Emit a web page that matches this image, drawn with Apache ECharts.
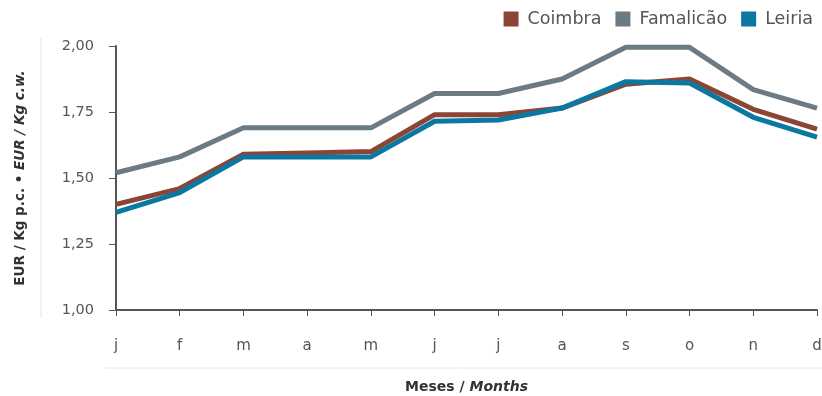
<!DOCTYPE html>
<html>
<head>
<meta charset="utf-8">
<script src="https://cdn.jsdelivr.net/npm/echarts@6/dist/echarts.min.js"></script>
<style>
  html, body { margin: 0; padding: 0; background: #fff; }
  #chart { width: 822px; height: 396px; }
</style>
</head>
<body>
<div id="chart"></div>
<script>
// meses
var months = ['j', 'f', 'm', 'a', 'm', 'j', 'j', 'a', 's', 'o', 'n', 'd'];
// preços EUR/kg
var coimbra = [1.40, 1.46, 1.59, 1.595, 1.60, 1.74, 1.74, 1.765, 1.855, 1.875, 1.76, 1.685];
var famalicao = [1.52, 1.58, 1.69, 1.69, 1.69, 1.82, 1.82, 1.875, 1.995, 1.995, 1.835, 1.765];
var leiria = [1.37, 1.445, 1.58, 1.58, 1.58, 1.715, 1.72, 1.765, 1.865, 1.86, 1.73, 1.655];

var font = 'DejaVu Sans';
var axisColor = '#555';

function line(name, data, color) {
  return {
    name: name,
    type: 'line',
    data: data,
    showSymbol: false,
    lineStyle: { width: 5, color: color },
    itemStyle: { color: color }
  };
}

var chart = echarts.init(document.getElementById('chart'));
chart.setOption({
  animation: false,
  textStyle: { fontFamily: font },
  legend: {
    right: 4,
    top: 5,
    icon: 'rect',
    itemWidth: 15,
    itemHeight: 15,
    itemGap: 14,
    textStyle: { fontSize: 17.5, color: '#555', fontFamily: font, padding: [0, 0, 0, 4] }
  },
  grid: { left: 116, right: 5, top: 46, bottom: 86, outerBoundsMode: 'none' },
  xAxis: {
    type: 'category',
    data: months,
    boundaryGap: false,
    axisLine: { lineStyle: { color: axisColor, width: 2 } },
    axisTick: { show: true, alignWithLabel: true, length: 6, lineStyle: { color: axisColor } },
    axisLabel: { color: '#555', fontSize: 15, margin: 29 },
    name: '{b|Meses / }{i|Months}',
    nameLocation: 'middle',
    nameGap: 70,
    nameTextStyle: {
      rich: {
        b: { fontWeight: 'bold', fontSize: 14, color: '#333', fontFamily: font },
        i: { fontWeight: 'bold', fontStyle: 'italic', fontSize: 14, color: '#333', fontFamily: font }
      }
    }
  },
  yAxis: {
    type: 'value',
    min: 1,
    max: 2,
    interval: 0.25,
    axisLine: { show: true, onZero: false, lineStyle: { color: axisColor, width: 2 } },
    axisTick: { show: true, length: 7, lineStyle: { color: axisColor } },
    splitLine: { show: false },
    axisLabel: {
      color: '#555',
      fontSize: 14.5,
      margin: 22,
      formatter: function (v) { return v.toFixed(2).replace('.', ','); }
    },
    name: '{b|EUR / Kg p.c. • }{i|EUR / Kg c.w.}',
    nameLocation: 'middle',
    nameGap: 89,
    nameRotate: 90,
    nameTextStyle: {
      rich: {
        b: { fontWeight: 'bold', fontSize: 13.5, color: '#333', fontFamily: font },
        i: { fontWeight: 'bold', fontStyle: 'italic', fontSize: 13.5, color: '#333', fontFamily: font }
      }
    }
  },
  graphic: [
    { type: 'line', shape: { x1: 41, y1: 38, x2: 41, y2: 318 }, style: { stroke: '#e6e6e6', lineWidth: 1 } },
    { type: 'line', shape: { x1: 105, y1: 368, x2: 822, y2: 368 }, style: { stroke: '#e6e6e6', lineWidth: 1 } }
  ],
  series: [
    line('Coimbra', coimbra, '#8c4434'),
    line('Famalicão', famalicao, '#6b7a83'),
    line('Leiria', leiria, '#0a78a0')
  ]
});
</script>
</body>
</html>
